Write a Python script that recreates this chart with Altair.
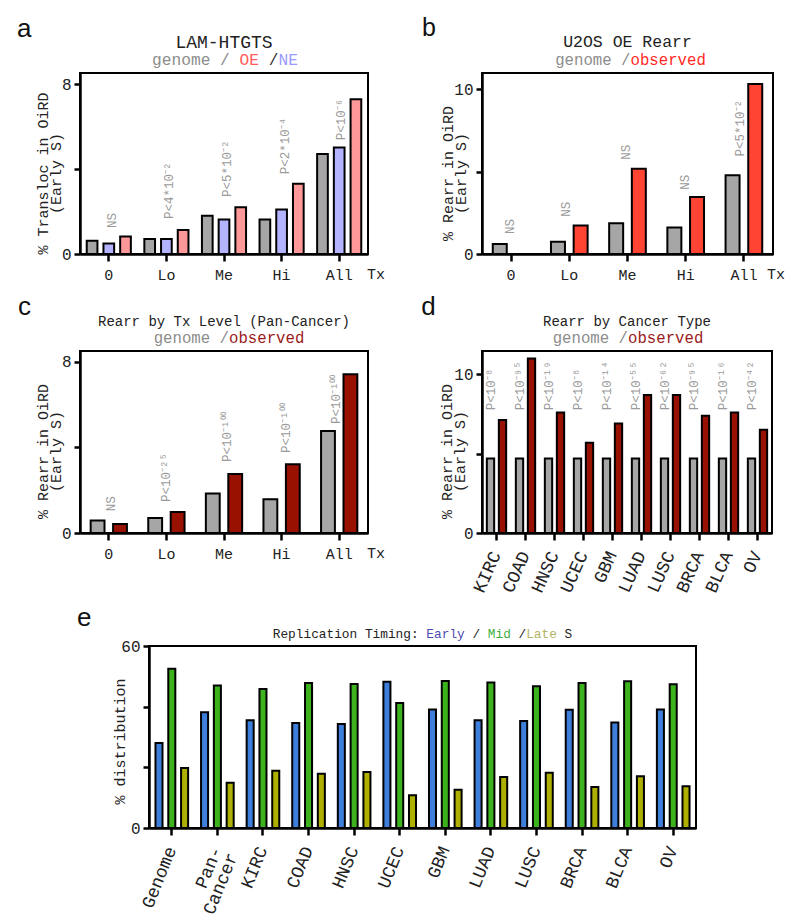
import altair as alt
import pandas as pd

FONT = "Liberation Mono"
SANS = "Liberation Sans"
INK = "#222222"
GTXT = "#8c8c8c"
ANN = "#9a9a9a"
GRAY = "#a6a6a6"

# ---------------- data ----------------
tx_levels = ["0", "Lo", "Me", "Hi", "All"]

# panel a : LAM-HTGTS
a_series = ["genome", "NE", "OE"]
a_genome = [0.63, 0.71, 1.80, 1.62, 4.71]
a_ne = [0.50, 0.71, 1.62, 2.10, 5.02]
a_oe = [0.82, 1.13, 2.20, 3.31, 7.29]
a_pvals = ["NS", "P<4*10⁻²", "P<5*10⁻²", "P<2*10⁻⁴", "P<10⁻⁶"]
a_pval_y = [1.23, 1.65, 2.69, 3.76, 5.36]

# panel b : U2OS OE Rearr
b_series = ["genome", "observed"]
b_genome = [0.61, 0.75, 1.87, 1.61, 4.78]
b_obs = [0.0, 1.73, 5.18, 3.46, 10.33]
b_pvals = ["NS", "NS", "NS", "NS", "P<5*10⁻²"]
b_pval_y = [1.22, 2.27, 5.73, 3.90, 5.93]

# panel c : Rearr by Tx level (Pan-Cancer)
c_genome = [0.58, 0.70, 1.84, 1.58, 4.76]
c_obs = [0.42, 0.98, 2.76, 3.21, 7.41]
c_pvals = ["NS", "P<10⁻²⁵", "P<10⁻¹⁰⁰", "P<10⁻¹⁰⁰", "P<10⁻¹⁰⁰"]
c_pval_y = [1.01, 1.45, 3.32, 3.74, 5.09]

# panel d : Rearr by cancer type
cancers = ["KIRC", "COAD", "HNSC", "UCEC", "GBM", "LUAD", "LUSC", "BRCA", "BLCA", "OV"]
d_genome = [4.69, 4.69, 4.69, 4.69, 4.69, 4.69, 4.69, 4.69, 4.69, 4.69]
d_obs = [7.12, 10.99, 7.60, 5.68, 6.90, 8.69, 8.69, 7.39, 7.60, 6.50]
d_pvals = ["P<10⁻⁸", "P<10⁻⁹⁵", "P<10⁻¹⁹", "P<10⁻⁸", "P<10⁻¹⁴",
           "P<10⁻⁵⁵", "P<10⁻⁶²", "P<10⁻⁹⁵", "P<10⁻¹⁶", "P<10⁻⁴²"]
d_pval_y = [7.73, 7.73, 7.73, 7.73, 7.73, 7.73, 7.73, 7.73, 7.73, 7.73]

# panel e : replication timing
e_cats = ["Genome", "Pan-Cancer", "KIRC", "COAD", "HNSC", "UCEC",
          "GBM", "LUAD", "LUSC", "BRCA", "BLCA", "OV"]
e_series = ["Early", "Mid", "Late"]
e_early = [28.0, 38.2, 35.5, 34.6, 34.3, 48.2, 39.1, 35.5, 35.3, 39.0, 34.8, 39.1]
e_mid = [52.5, 47.0, 45.8, 47.8, 47.5, 41.2, 48.5, 48.0, 46.7, 47.8, 48.4, 47.4]
e_late = [19.8, 14.9, 18.9, 17.9, 18.5, 10.8, 12.6, 16.8, 18.2, 13.5, 17.1, 13.8]

ONE = pd.DataFrame({"k": [0]})


def long_df(cats, series, columns):
    rows = []
    for s, col in zip(series, columns):
        for c, v in zip(cats, col):
            rows.append({"cat": c, "series": s, "value": v})
    return pd.DataFrame(rows)


def txt(s, x, y, size, color, font=FONT, align="left", baseline="alphabetic"):
    return alt.Chart(ONE).mark_text(
        text=s, font=font, fontSize=size, color=color, align=align, baseline=baseline
    ).encode(x=alt.value(x), y=alt.value(y))


def title_line(segments, cx, by, size):
    n = sum(len(s) for s, _ in segments)
    cw = 0.6 * size
    x0 = cx - n * cw / 2
    out = []
    off = 0
    for s, col in segments:
        lead = len(s) - len(s.lstrip(" "))
        out.append(txt(s.strip(" "), x0 + (off + lead) * cw, by, size, col))
        off += len(s)
    return out


def bar_panel(cats, series, columns, colors, ymax, yvals, yshown,
              ytitle, ytitle_x, ytitle_y, p_in, p_out, q, xaxis,
              ann_labels=None, ann_y=None, ann_dy=None, ann_size=12.5):
    df = long_df(cats, series, columns)
    shown = " || ".join(f"datum.value == {v}" for v in yshown)
    yaxis = alt.Axis(
        values=yvals, format="d", labelExpr=f"({shown}) ? datum.label : ''",
        title=ytitle, titleX=ytitle_x, titleY=ytitle_y, titleAngle=270,
        titleAlign="center", titleBaseline="middle", titleLineHeight=13.5,
        labelFontSize=16, tickSize=6, labelPadding=3,
    )
    bars = alt.Chart(df).mark_bar(stroke="black", strokeWidth=2).encode(
        x=alt.X("cat:N", sort=cats,
                scale=alt.Scale(paddingInner=p_in, paddingOuter=p_out), axis=xaxis),
        xOffset=alt.XOffset("series:N", sort=series,
                            scale=alt.Scale(paddingInner=q, paddingOuter=0)),
        y=alt.Y("value:Q", scale=alt.Scale(domain=[0, ymax], nice=False), axis=yaxis),
        color=alt.Color("series:N", scale=alt.Scale(domain=series, range=colors),
                        legend=None),
    )
    layers = [bars]
    if ann_labels is not None:
        adf = pd.DataFrame({"cat": cats, "value": ann_y, "label": ann_labels,
                            "off": ann_dy})
        for off in sorted(set(ann_dy)):
            sub = adf[adf["off"] == off][["cat", "value", "label"]]
            layers.append(
                alt.Chart(sub).mark_text(
                    angle=270, align="left", baseline="middle", font=FONT,
                    fontSize=ann_size, color=ANN, dy=off,
                ).encode(x=alt.X("cat:N", sort=cats), y=alt.Y("value:Q"),
                         text="label:N")
            )
    return layers


tx_axis = alt.Axis(title=None, labelAngle=0, labelFontSize=15, tickSize=7,
                   labelPadding=6, labelBaseline="top")

# ---------------- panel a ----------------
Wa, Ha = 288, 181
a_layers = bar_panel(
    tx_levels, a_series, [a_genome, a_ne, a_oe], [GRAY, "#b3b3ff", "#ff9999"],
    8.53, [0, 4, 8], [0, 8], ["% Transloc in OiRD", "(Early S)"],
    -38, 100, 0.234, 0.117, 0.36, tx_axis, a_pvals, a_pval_y,
    ann_dy=[3, 3, 3, 3, 2],
)
a_layers += [txt("LAM-HTGTS", Wa / 2, -25, 18, INK, align="center")]
a_layers += title_line([("genome / ", GTXT), ("OE", "#ff5c5c"), (" /", "#333333"),
                        ("NE", "#9a9aff")], Wa / 2 + 1, -8, 16.2)
a_layers += [txt("Tx", 287, Ha + 13, 15, INK, baseline="top"),
             txt("a", -63, -36, 26, "#111111", font=SANS)]
panel_a = alt.layer(*a_layers).properties(width=Wa, height=Ha)

# ---------------- panel b ----------------
Wb, Hb = 291, 181
b_layers = bar_panel(
    tx_levels, b_series, [b_genome, b_obs], [GRAY, "#ff4433"],
    11.0, [0, 5, 10], [0, 10], ["% Rearr in OiRD", "(Early S)"],
    -35, 100, 0.37, 0.185, 0.383, tx_axis, b_pvals, b_pval_y,
    ann_dy=[-1, -3, -2, -1, -4],
)
b_layers += [txt("U2OS OE Rearr", Wb / 2, -26, 16.5, INK, align="center")]
b_layers += title_line([("genome /", GTXT), ("observed", "#ff2a1f")], Wb / 2 + 3, -8.5, 15.7)
b_layers += [txt("Tx", 285, Hb + 13, 15, INK, baseline="top"),
             txt("b", -60, -36.7, 25, "#111111", font=SANS)]
panel_b = alt.layer(*b_layers).properties(width=Wb, height=Hb)

# ---------------- panel c ----------------
Wc, Hc = 288, 182
c_layers = bar_panel(
    tx_levels, b_series, [c_genome, c_obs], [GRAY, "#991100"],
    8.5, [0, 4, 8], [0, 8], ["% Rearr in OiRD", "(Early S)"],
    -38, 100, 0.37, 0.185, 0.383, tx_axis, c_pvals, c_pval_y,
    ann_dy=[2, 0, 3, 4, -3],
)
c_layers += [txt("Rearr by Tx Level (Pan-Cancer)", Wc / 2, -25, 14, INK, align="center")]
c_layers += title_line([("genome /", GTXT), ("observed", "#9b1a1a")], Wc / 2 + 5, -7.7, 15.7)
c_layers += [txt("Tx", 287, Hc + 13, 15, INK, baseline="top"),
             txt("c", -62, -35.7, 26, "#111111", font=SANS)]
panel_c = alt.layer(*c_layers).properties(width=Wc, height=Hc)

# ---------------- panel d ----------------
Wd, Hd = 290, 182
d_axis = alt.Axis(title=None, labelAngle=-66, labelAlign="right", labelBaseline="middle",
                  labelFontSize=18, tickSize=7, labelPadding=12)
d_layers = bar_panel(
    cancers, b_series, [d_genome, d_obs], [GRAY, "#991100"],
    11.47, [0, 5, 10], [0, 10], ["% Rearr in OiRD", "(Early S)"],
    -36, 100, 0.334, 0.167, 0.39, d_axis, d_pvals, d_pval_y,
    ann_dy=[-6] * 10,
)
d_layers += [txt("Rearr by Cancer Type", Wd / 2, -25, 14, INK, align="center")]
d_layers += title_line([("genome /", GTXT), ("observed", "#9b1a1a")], Wd / 2 + 1, -7.7, 15.7)
d_layers += [txt("d", -60.7, -35.7, 26, "#111111", font=SANS)]
panel_d = alt.layer(*d_layers).properties(width=Wd, height=Hd)

# ---------------- panel e ----------------
We, He = 547, 182
e_axis = alt.Axis(title=None, labelAngle=-68, labelAlign="right", labelBaseline="middle",
                  labelFontSize=18, tickSize=7, labelPadding=12, labelLineHeight=17,
                  labelExpr="datum.label == 'Pan-Cancer' ? ['Pan-', 'Cancer'] : datum.label")
e_layers = bar_panel(
    e_cats, e_series, [e_early, e_mid, e_late], ["#3f7fdc", "#3cb31c", "#adb000"],
    60, [0, 20, 40, 60], [0, 60], "% distribution",
    -29.3, 95, 0.284, 0.142, 0.45, e_axis,
)
e_layers += title_line([("Replication Timing: ", INK), ("Early", "#4b4bb0"), (" / ", INK),
                        ("Mid", "#3faf3f"), (" /", INK), ("Late", "#b3b366"), (" S", INK)],
                       We / 2, -8, 12.8)
e_layers += [txt("e", -72, -19.7, 26, "#111111", font=SANS)]
panel_e = alt.layer(*e_layers).properties(width=We, height=He)

spacer = alt.Chart(ONE).mark_point(opacity=0).encode(
    x=alt.value(0), y=alt.value(0)
).properties(width=1, height=He, view=alt.ViewBackground(stroke="transparent"))

RES = dict(color="independent", xOffset="independent")

grid = alt.concat(panel_a, panel_b, panel_c, panel_d, columns=2,
                  spacing={"row": 97, "column": 114}, bounds="flush").resolve_scale(**RES)
row3 = alt.hconcat(spacer, panel_e, spacing=68, bounds="flush").resolve_scale(**RES)

chart = alt.vconcat(grid, row3, spacing=7).resolve_scale(**RES).properties(
    padding={"left": 8, "top": 7, "right": 5, "bottom": 5}
).configure_view(
    stroke="black", strokeWidth=2
).configure_axis(
    domainColor="black", domainWidth=2.5, tickColor="black", tickWidth=2.5,
    labelFont=FONT, labelColor=INK, titleFont=FONT, titleFontSize=15,
    titleFontWeight="normal", titleColor=INK, grid=False,
)

chart.save("out.html", embed_options={"renderer": "svg", "actions": False})
